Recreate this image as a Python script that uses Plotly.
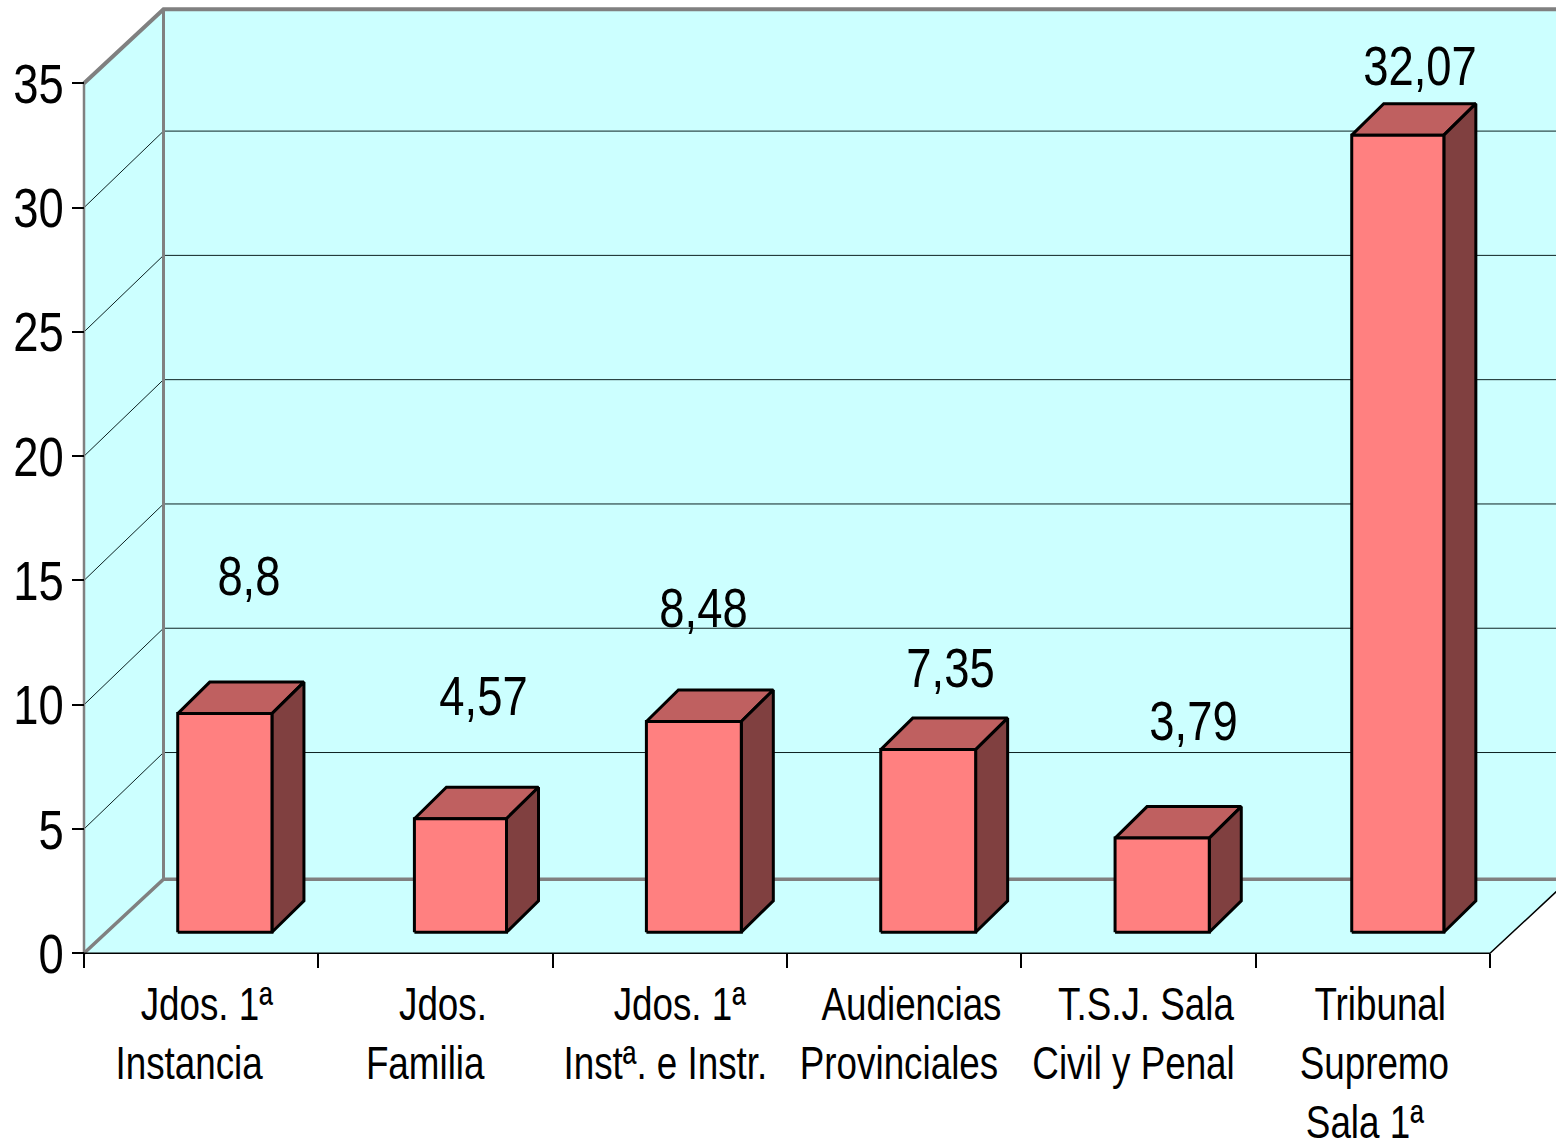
import plotly.graph_objects as go

CATEGORY_LINES = [
    ["Jdos. 1ª", "Instancia"],
    ["Jdos.", "Familia"],
    ["Jdos. 1ª", "Instª. e Instr."],
    ["Audiencias", "Provinciales"],
    ["T.S.J. Sala", "Civil y Penal"],
    ["Tribunal", "Supremo", "Sala 1ª"],
]
VALUES = [8.8, 4.57, 8.48, 7.35, 3.79, 32.07]
Y_TICKS = [0, 5, 10, 15, 20, 25, 30, 35]

W, H = 1556, 1143
X0_PX, X1_PX = 84, 1490
Y0_PX, Y35_PX = 953.3, 83.3
UNIT_X = (X1_PX - X0_PX) / 6
UNIT_Y = (Y0_PX - Y35_PX) / 35
WALL_DX = 79.5 / UNIT_X
WALL_DY = 74 / UNIT_Y
BAR_BASE = 21 / UNIT_Y
BAR_DX = 32 / UNIT_X
BAR_DY = 31.5 / UNIT_Y
BAR_LEFTS = [0.40, 0.41, 0.40, 0.40, 0.40, 0.41]
BAR_WIDTHS = [0.402, 0.393, 0.405, 0.405, 0.402, 0.393]
NCAT = len(VALUES)

CYAN = "#CCFFFF"
GREY = "#808080"
FONT = "Liberation Sans"

# horizontal/vertical pixel placement of text
VALUE_SHIFT = [(-8, 138), (-8, 123), (-22, 114), (-9, 82), (-1, 118), (-9, 70)]
LABEL_CX = [[207, 189], [443, 425], [680, 665], [911, 899], [1146, 1133], [1380, 1374, 1365]]
LABEL_Y = [1004, 1063, 1122]

fig = go.Figure()


def poly(xs, ys, fill=None, line="rgba(0,0,0,0)", width=0):
    fig.add_trace(go.Scatter(
        x=xs, y=ys, mode="lines", cliponaxis=False, showlegend=False, hoverinfo="skip",
        fill="toself" if fill else None, fillcolor=fill,
        line=dict(color=line, width=width, simplify=False),
    ))


# walls and floor
right = NCAT + WALL_DX
poly([WALL_DX, right, right, WALL_DX, WALL_DX], [WALL_DY, WALL_DY, 35 + WALL_DY, 35 + WALL_DY, WALL_DY], CYAN)
poly([0, WALL_DX, WALL_DX, 0, 0], [0, WALL_DY, 35 + WALL_DY, 35, 0], CYAN)
poly([0, WALL_DX, right, NCAT, 0], [0, WALL_DY, WALL_DY, 0, 0], CYAN)

# gridlines
for k in Y_TICKS[1:-1]:
    poly([0, WALL_DX, right], [k, k + WALL_DY + 0.1, k + WALL_DY + 0.1], line="#0d2222", width=1)

# frame
poly([0, WALL_DX, right], [35, 35 + WALL_DY, 35 + WALL_DY], line=GREY, width=4)
poly([0, WALL_DX, right], [0, WALL_DY, WALL_DY], line=GREY, width=3.5)
poly([WALL_DX, WALL_DX], [WALL_DY, 35 + WALL_DY], line=GREY, width=3)
poly([0, 0], [0, 35], line=GREY, width=2.5)
poly([0, NCAT, right], [0, 0, WALL_DY], line="#000000", width=1.5)

# bars
for i, v in enumerate(VALUES):
    l = i + BAR_LEFTS[i]
    r = l + BAR_WIDTHS[i]
    b = BAR_BASE
    t = BAR_BASE + v
    poly([l, r, r + BAR_DX, l + BAR_DX, l], [t, t, t + BAR_DY, t + BAR_DY, t], "#BF6060", "#000000", 3)
    poly([r, r + BAR_DX, r + BAR_DX, r, r], [b, b + BAR_DY, t + BAR_DY, t, b], "#804040", "#000000", 3)
    poly([l, r, r, l, l], [b, b, t, t, b], "#FF8080", "#000000", 3)

annotations = []
for i, v in enumerate(VALUES):
    sx, sy = VALUE_SHIFT[i]
    annotations.append(dict(
        x=i + 0.601 + BAR_DX, y=BAR_BASE + v, xref="x", yref="y",
        xshift=sx, yshift=sy, text=str(v).replace(".", ","), showarrow=False,
        font=dict(family=FONT, size=56, color="#000000"), xanchor="center", yanchor="middle",
    ))
for lines, cxs in zip(CATEGORY_LINES, LABEL_CX):
    for n, (txt, cx) in enumerate(zip(lines, cxs)):
        annotations.append(dict(
            x=cx / W, y=1 - LABEL_Y[n] / H, xref="paper", yref="paper", text=txt, showarrow=False,
            font=dict(family=FONT, size=46, color="#000000"), xanchor="center", yanchor="middle",
        ))

fig.update_layout(
    width=W, height=H, margin=dict(l=0, r=0, t=0, b=0),
    paper_bgcolor="#FFFFFF", plot_bgcolor="rgba(0,0,0,0)", showlegend=False,
    annotations=annotations,
    xaxis=dict(
        domain=[0, 1], range=[-X0_PX / UNIT_X, (W - X0_PX) / UNIT_X],
        anchor="free", position=1 - Y0_PX / H, automargin=False, tickmode="array",
        tickvals=list(range(NCAT + 1)), ticktext=[""] * (NCAT + 1), ticks="outside",
        ticklen=14, tickwidth=1.5, tickcolor="#000000", showgrid=False, zeroline=False,
        showline=False,
    ),
    yaxis=dict(
        domain=[0, 1], range=[(Y0_PX - H) / UNIT_Y, Y0_PX / UNIT_Y],
        anchor="free", position=X0_PX / W, automargin=False, tickmode="array",
        tickvals=Y_TICKS, ticktext=[str(t) for t in Y_TICKS], ticks="outside",
        ticklen=12, tickwidth=1.5, tickcolor="#000000", showgrid=False, zeroline=False,
        showline=False, ticklabelstandoff=-3, tickfont=dict(family=FONT, size=56, color="#000000"),
    ),
)

# The reference lettering is a condensed sans: narrow the real text elements in place.
POST = """
document.body.style.margin = '0';
document.querySelectorAll('.main-svg text').forEach(function (t) {
  if (!t.textContent) { return; }
  var b = t.getBBox();
  var end = (t.style.textAnchor === 'end' || t.getAttribute('text-anchor') === 'end');
  var ax = end ? b.x + b.width : b.x + b.width / 2;
  var size = parseFloat(t.style.fontSize);
  var k = size > 50 ? 0.81 : 0.80;
  var prev = t.getAttribute('transform') || '';
  t.setAttribute('transform', prev + ' translate(' + ax + ',0) scale(' + k + ',1) translate(' + (-ax) + ',0)');
});
"""
fig.write_html("out.html", post_script=POST, config=dict(displayModeBar=False))
